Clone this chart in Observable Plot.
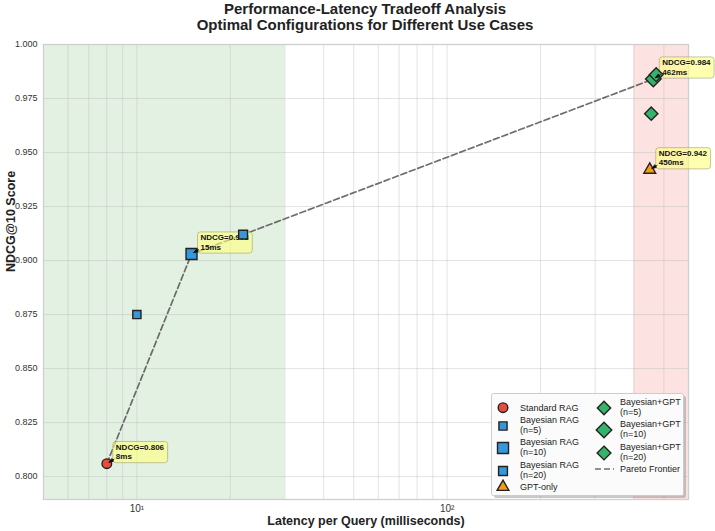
<!DOCTYPE html>
<html><head><meta charset="utf-8">
<script src="https://cdn.jsdelivr.net/npm/d3@7"></script>
<script src="https://cdn.jsdelivr.net/npm/@observablehq/plot@0.6"></script>
<style>
body{margin:0;background:#fff;font-family:"Liberation Sans",Arial,sans-serif;}
#title{height:34px;box-sizing:border-box;padding-left:15px;padding-top:1px;text-align:center;font-weight:bold;font-size:15px;line-height:16.2px;color:#222;}
#chart svg{display:block;overflow:visible;}
</style></head><body>
<div id="title">Performance-Latency Tradeoff Analysis<br>Optimal Configurations for Different Use Cases</div>
<div id="chart"></div>
<script>
// ---- data ----
const configNames = ["Standard RAG","Bayesian RAG\n(n=5)","Bayesian RAG\n(n=10)","Bayesian RAG\n(n=20)","GPT-only","Bayesian+GPT\n(n=5)","Bayesian+GPT\n(n=10)","Bayesian+GPT\n(n=20)"];
const latencyMs = [8, 10, 15, 22, 450, 455, 462, 472];
const ndcgScores = [0.806, 0.875, 0.903, 0.912, 0.942, 0.968, 0.984, 0.986];
const paretoLatency = [8, 15, 22, 462];
const paretoNdcg = [0.806, 0.903, 0.912, 0.984];
const annotLatency = [8, 15, 462, 450];
const annotNdcg = [0.806, 0.903, 0.984, 0.942];
const yTicks = [0.800, 0.825, 0.850, 0.875, 0.900, 0.925, 0.950, 0.975, 1.000];
const xTicks = [10, 100];
const xTickLabels = ["10¹", "10²"];
const xMinor = [6,7,8,9,20,30,40,50,60,70,80,90,200,300,400,500];
const fastRange = [5, 30];
const accurateRange = [400, 600];

// ---- styles ----
const RED="#e74c3c", BLUE="#3498db", GREEN="#35b36a", ORANGE="#f39c12";
const styles = [
  {symbol:"circle", fill:RED, r:4.8},
  {symbol:"square", fill:BLUE, r:4.6},
  {symbol:"square", fill:BLUE, r:6.2},
  {symbol:"square", fill:BLUE, r:5.0},
  {symbol:"triangle", fill:ORANGE, r:4.4},
  {symbol:"diamond2", fill:GREEN, r:6.0},
  {symbol:"diamond2", fill:GREEN, r:7.0},
  {symbol:"diamond2", fill:GREEN, r:6.2}
];

const data = configNames.map((name,i)=>({name, lat:latencyMs[i], ndcg:ndcgScores[i], i}));
const pareto = paretoLatency.map((l,i)=>({lat:l, ndcg:paretoNdcg[i]}));
const annots = annotLatency.map((l,i)=>({lat:l, ndcg:annotNdcg[i], label:`NDCG=${annotNdcg[i].toFixed(3)}\n${l}ms`}));

const TOP = 34; // title height
const W=715, H=531-TOP;
const dotMarks = data.map((d,i)=>Plot.dot([d], {x:"lat", y:"ndcg", symbol:()=>styles[i].symbol, r:styles[i].r, fill:styles[i].fill, stroke:"#222", strokeWidth:1.4}));

const plot = Plot.plot({
  width:W, height:H,
  marginTop:10, marginBottom:32, marginLeft:43, marginRight:27,
  style:{fontFamily:"'Liberation Sans', Arial, sans-serif", background:"#fff", color:"#333", overflow:"visible"},
  x:{type:"log", domain:[5,600]},
  y:{domain:[0.7894,1.0]},
  marks:[
    Plot.rect([fastRange], {x1:d=>d[0], x2:d=>d[1], fill:"#3a9a3a", fillOpacity:0.14}),
    Plot.rect([accurateRange], {x1:d=>d[0], x2:d=>d[1], fill:"#f03c3c", fillOpacity:0.15}),
    Plot.ruleX([...xMinor, ...xTicks], {stroke:"#b8b8b8", strokeOpacity:0.5, strokeWidth:0.8}),
    Plot.ruleY(yTicks, {stroke:"#b8b8b8", strokeOpacity:0.5, strokeWidth:0.8}),
    Plot.frame({stroke:"#cfcfcf", strokeWidth:1.3}),
    Plot.axisX({ticks:xTicks, tickFormat:(d)=>xTickLabels[xTicks.indexOf(d)], tickSize:0, tickPadding:5, fontSize:10, label:null}),
    Plot.axisY({ticks:yTicks, tickFormat:d3.format(".3f"), tickSize:0, tickPadding:6, fontSize:9, label:null}),
    Plot.text(["Latency per Query (milliseconds)"], {frameAnchor:"bottom", dy:25, fontWeight:"bold", fontSize:12.5, fill:"#222"}),
    Plot.text(["NDCG@10 Score"], {frameAnchor:"left", dx:-33, rotate:-90, fontWeight:"bold", fontSize:12.5, fill:"#222"}),
    Plot.line(pareto, {x:"lat", y:"ndcg", stroke:"#555", strokeDasharray:"6,3", strokeWidth:1.7, strokeOpacity:0.85}),
    Plot.text(annots, {x:"lat", y:"ndcg", text:"label", dx:9, dy:-12, textAnchor:"start", lineAnchor:"middle", fontSize:8, fontWeight:"bold", fill:"#111", lineHeight:1.15, className:"annot"}),
    ...dotMarks
  ]
});
document.getElementById("chart").appendChild(plot);

// ---- annotation boxes & arrows ----
const NS="http://www.w3.org/2000/svg";
const sx = plot.scale("x"), sy = plot.scale("y");
plot.querySelectorAll("g.annot text").forEach(t=>{
  const bb = t.getBBox();
  const r = document.createElementNS(NS,"rect");
  r.setAttribute("x", bb.x-3); r.setAttribute("y", bb.y-1.5);
  r.setAttribute("width", bb.width+6); r.setAttribute("height", bb.height+3);
  r.setAttribute("rx", 3);
  r.setAttribute("fill", "#ffff80"); r.setAttribute("fill-opacity", 0.62);
  r.setAttribute("stroke", "#a0a070"); r.setAttribute("stroke-opacity", 0.6); r.setAttribute("stroke-width", 1);
  if (t.getAttribute("transform")) r.setAttribute("transform", t.getAttribute("transform"));
  t.parentNode.insertBefore(r, t);
});
const annG = document.createElementNS(NS,"g");
annots.forEach(a=>{
  const px = sx.apply(a.lat), py = sy.apply(a.ndcg);
  const p = document.createElementNS(NS,"path");
  p.setAttribute("d", `M${px+8},${py-4}L${px+3},${py-1}M${px+2.5},${py-0.8}L${px+5.6},${py-4.6}L${px+7},${py-1.8}Z`);
  p.setAttribute("stroke","#111"); p.setAttribute("stroke-width",1); p.setAttribute("fill","#111");
  annG.appendChild(p);
});
plot.appendChild(annG);

// ---- legend (inside plot, lower right) ----
const lg = document.createElementNS(NS,"g");
lg.setAttribute("text-anchor","start");
const off = TOP;
function addRect(x,y,w,h,attrs){const r=document.createElementNS(NS,"rect");r.setAttribute("x",x);r.setAttribute("y",y);r.setAttribute("width",w);r.setAttribute("height",h);for(const k in attrs)r.setAttribute(k,attrs[k]);lg.appendChild(r);}
addRect(494, 396-off, 192, 102, {fill:"#888", "fill-opacity":0.45, rx:2});
addRect(491.5, 393.5-off, 192, 102, {fill:"#fbfbfb", stroke:"#cccccc", "stroke-width":1, rx:2});
const symMap = {circle:d3.symbolCircle, square:d3.symbolSquare, triangle:d3.symbolTriangle, diamond2:d3.symbolDiamond2};
const legendPos = [
  {mx:503, my:407.7, tx:520, ty:[407.7]},
  {mx:503, my:426, tx:520, ty:[420,430]},
  {mx:503, my:448, tx:520, ty:[442,452]},
  {mx:503, my:471, tx:520, ty:[465,474.5]},
  {mx:503, my:487, tx:520, ty:[487]},
  {mx:604, my:408, tx:620, ty:[402,412]},
  {mx:604, my:430, tx:620, ty:[424,433.5]},
  {mx:604, my:453, tx:620, ty:[447,457]}
];
configNames.forEach((name,i)=>{
  const s = styles[i], p = legendPos[i];
  const path = document.createElementNS(NS,"path");
  path.setAttribute("d", d3.symbol(symMap[s.symbol], Math.PI*s.r*s.r)());
  path.setAttribute("transform", `translate(${p.mx},${p.my-off})`);
  path.setAttribute("fill", s.fill); path.setAttribute("stroke","#222"); path.setAttribute("stroke-width",1.4);
  lg.appendChild(path);
  name.split("\n").forEach((line,j)=>{
    const t = document.createElementNS(NS,"text");
    t.setAttribute("x", p.tx); t.setAttribute("y", p.ty[j]-off);
    t.setAttribute("dy","0.35em"); t.setAttribute("font-size", 9); t.setAttribute("fill","#222");
    t.setAttribute("text-anchor","start");
    t.textContent = line; lg.appendChild(t);
  });
});
const pl = document.createElementNS(NS,"line");
pl.setAttribute("x1",595); pl.setAttribute("x2",614); pl.setAttribute("y1",469-off); pl.setAttribute("y2",469-off);
pl.setAttribute("stroke","#555"); pl.setAttribute("stroke-width",1.6); pl.setAttribute("stroke-dasharray","6,3"); pl.setAttribute("stroke-opacity",0.85);
lg.appendChild(pl);
const pt = document.createElementNS(NS,"text");
pt.setAttribute("x",620); pt.setAttribute("y",469-off); pt.setAttribute("dy","0.35em"); pt.setAttribute("font-size",9); pt.setAttribute("fill","#222");
pt.setAttribute("text-anchor","start");
pt.textContent = "Pareto Frontier"; lg.appendChild(pt);
plot.appendChild(lg);
</script>
</body></html>
